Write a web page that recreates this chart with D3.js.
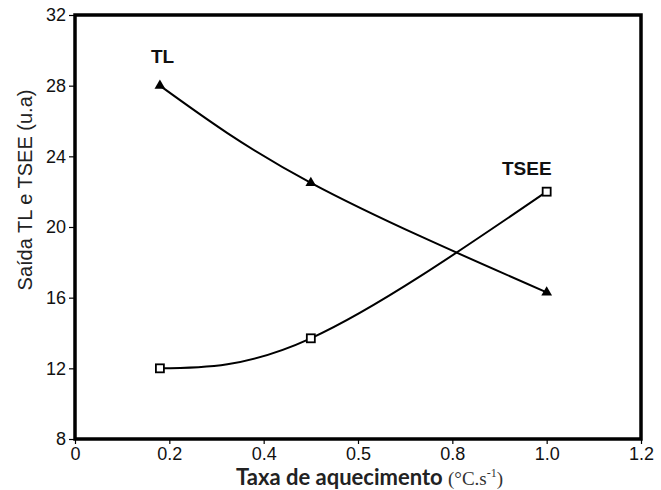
<!DOCTYPE html>
<html>
<head>
<meta charset="utf-8">
<script src="https://cdn.jsdelivr.net/npm/d3@7/dist/d3.min.js"></script>
<style>
  html, body { margin: 0; padding: 0; background: #fff; }
  svg { display: block; }
</style>
</head>
<body>
<script>
// ---- data ----
const rates = [0.18, 0.5, 1.0];
const tlValues = [28, 22.5, 16.3];
const tseeValues = [12, 13.7, 22];
const xTicks = [0, 0.2, 0.4, 0.6, 0.8, 1.0, 1.2];
const xTickLabels = ["0", "0.2", "0.4", "0.5", "0.8", "1.0", "1.2"];
const yTicks = [8, 12, 16, 20, 24, 28, 32];
const yTickLabels = ["8", "12", "16", "20", "24", "28", "32"];

const W = 661, H = 490;
const svg = d3.select("body").append("svg").attr("width", W).attr("height", H);
svg.append("rect").attr("width", W).attr("height", H).attr("fill", "#fff");

const x = d3.scaleLinear().domain([0, 1.2]).range([75, 641]);
const y = d3.scaleLinear().domain([8, 32]).range([439, 15]);

// axes
const xAxis = svg.append("g").attr("transform", `translate(0,${y(8)})`)
  .call(d3.axisBottom(x).tickValues(xTicks).tickSize(5).tickPadding(3)
    .tickFormat((d, i) => xTickLabels[i]));
const yAxis = svg.append("g").attr("transform", `translate(${x(0)},0)`)
  .call(d3.axisLeft(y).tickValues(yTicks).tickSize(6).tickPadding(3)
    .tickFormat((d, i) => yTickLabels[i]));
[xAxis, yAxis].forEach(g => {
  g.select(".domain").remove();
  g.selectAll(".tick line").attr("stroke", "#000").attr("stroke-width", 1.2);
  g.selectAll(".tick text").attr("fill", "#111")
    .style("font-family", "'Liberation Sans', Arial, sans-serif")
    .style("font-size", "18px");
});

// frame
svg.append("rect")
  .attr("x", x(0)).attr("y", y(32))
  .attr("width", x(1.2) - x(0)).attr("height", y(8) - y(32))
  .attr("fill", "none").attr("stroke", "#000").attr("stroke-width", 3.5);

// lines
const line = d3.line().x((d, i) => x(rates[i])).y(d => y(d)).curve(d3.curveNatural);
svg.append("path").attr("d", line(tlValues)).attr("fill", "none")
  .attr("stroke", "#000").attr("stroke-width", 2);
svg.append("path").attr("d", line(tseeValues)).attr("fill", "none")
  .attr("stroke", "#000").attr("stroke-width", 2);

// markers
svg.selectAll(".tri").data(tlValues).enter().append("path")
  .attr("d", d3.symbol().type(d3.symbolTriangle).size(50))
  .attr("transform", (d, i) => `translate(${x(rates[i])},${y(d)})`)
  .attr("fill", "#000");
svg.selectAll(".sq").data(tseeValues).enter().append("rect")
  .attr("x", (d, i) => x(rates[i]) - 4).attr("y", d => y(d) - 4)
  .attr("width", 8).attr("height", 8)
  .attr("fill", "#fff").attr("stroke", "#000").attr("stroke-width", 1.8);

// series labels
svg.append("text").attr("x", 151).attr("y", 63).text("TL")
  .style("font-family", "'Liberation Sans', Arial, sans-serif")
  .style("font-weight", "bold").style("font-size", "19px").attr("fill", "#111");
svg.append("text").attr("x", 502).attr("y", 175).text("TSEE")
  .style("font-family", "'Liberation Sans', Arial, sans-serif")
  .style("font-weight", "bold").style("font-size", "19px").attr("fill", "#111");

// y title
svg.append("text")
  .attr("transform", "translate(32,190) rotate(-90)")
  .attr("text-anchor", "middle")
  .style("font-family", "'Liberation Sans', Arial, sans-serif")
  .style("font-size", "20px").attr("fill", "#222")
  .text("Saída TL e TSEE (u.a)");

// x title
const xt = svg.append("text").attr("x", 236).attr("y", 485).attr("fill", "#222");
xt.append("tspan").text("Taxa de aquecimento ")
  .style("font-family", "Lato, sans-serif").style("font-weight", "bold").style("font-size", "22px");
const unit = xt.append("tspan").style("font-family", "'Liberation Serif', serif")
  .style("font-size", "19px").attr("fill", "#333");
unit.append("tspan").text("(°C.s");
unit.append("tspan").text("-1").attr("dy", -8).style("font-size", "12px");
unit.append("tspan").text(")").attr("dy", 8);
</script>
</body>
</html>
